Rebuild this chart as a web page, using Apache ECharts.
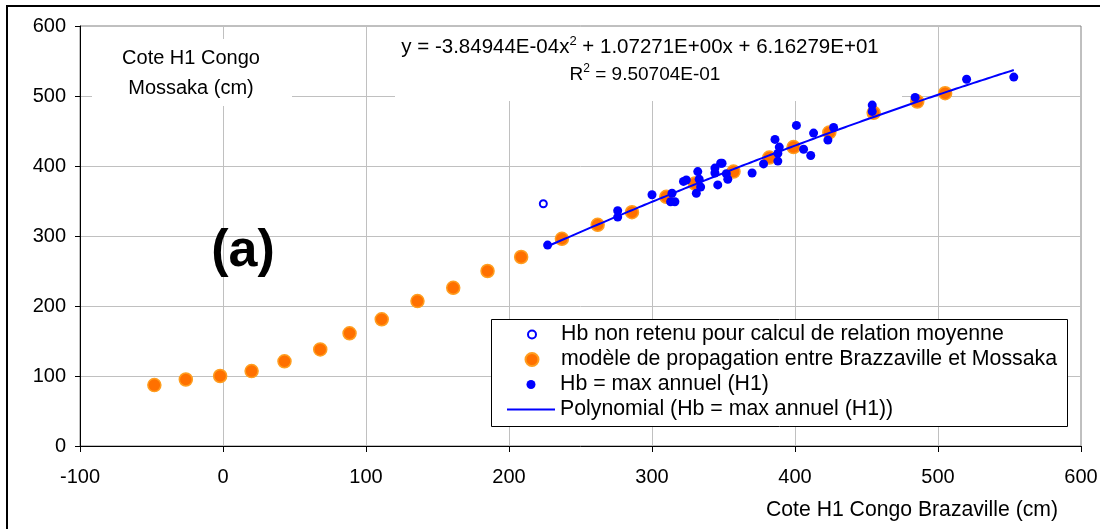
<!DOCTYPE html>
<html>
<head>
<meta charset="utf-8">
<script src="https://cdn.jsdelivr.net/npm/echarts@6/dist/echarts.min.js"></script>
<style>
  html, body { margin: 0; padding: 0; background: #ffffff; }
  #chart { width: 1105px; height: 529px; }
</style>
</head>
<body>
<div id="chart"></div>
<script>
// Legend / series names
const seriesNames = [
  'Hb non retenu pour calcul de relation moyenne',
  'modèle de propagation entre Brazzaville et Mossaka',
  'Hb = max annuel (H1)',
  'Polynomial (Hb = max annuel (H1))'
];

// [H1 Brazzaville (cm), H1 Mossaka (cm)]
const excludedPoints = [[224, 346]];

const modelPoints = [
  [-48, 87], [-26, 95], [-2, 100], [20, 107], [43, 121], [68, 138],
  [88.5, 161], [111, 181], [136, 207], [161, 226], [185, 250], [208.5, 270],
  [237, 296], [262, 316], [286, 334], [310, 356], [330, 375], [357, 392],
  [382, 412], [399, 427], [424, 448], [455, 476], [485.5, 492], [505, 504]
];

const annualMaxPoints = [
  [227, 287], [276, 336], [276, 327], [300, 359], [314, 361], [313, 349],
  [316, 349], [322, 378], [324, 380], [332, 392], [333, 381], [331, 361],
  [334, 370], [344, 397], [344, 390], [348, 404], [349, 404], [346, 373],
  [352, 389], [353, 381], [370, 390], [378, 403], [386, 438], [389, 427],
  [388, 418], [388, 407], [401, 458], [413, 447], [406, 424], [411, 415],
  [423, 437], [427, 455], [454, 487], [454, 478], [484, 498], [520, 524],
  [553, 527]
];

// Second-order trend: y = a*x^2 + b*x + c, drawn over the fitted x range
const fitCoefficients = [-3.84944e-4, 1.07271, 61.6279];
const fitRange = [227, 553];
const fitLabel = ['-3.84944E-04', '1.07271E+00', '6.16279E+01'];
const r2Label = '9.50704E-01';

const xAxisRange = [-100, 600, 100];
const yAxisRange = [0, 600, 100];

const FONT = '"Liberation Sans", Arial, sans-serif';
const LEGEND_FONT_SIZE = 21.3;

function fitValue(x) {
  return fitCoefficients[0] * x * x + fitCoefficients[1] * x + fitCoefficients[2];
}
const fitLine = [];
for (let x = fitRange[0]; x < fitRange[1]; x += 2) fitLine.push([x, fitValue(x)]);
fitLine.push([fitRange[1], fitValue(fitRange[1])]);

const chart = echarts.init(document.getElementById('chart'), null, { renderer: 'canvas' });

// one legend block per row so every marker keeps its own size
function legendRow(item, top, size, left, keepAspect) {
  return {
    data: [item],
    orient: 'vertical',
    left: left,
    top: top,
    padding: 0,
    itemWidth: 48,
    itemHeight: size,
    symbolKeepAspect: keepAspect,
    selectedMode: false,
    z: 5,
    textStyle: { fontFamily: FONT, fontSize: LEGEND_FONT_SIZE, lineHeight: 20, color: '#000' }
  };
}

const option = {
  backgroundColor: '#ffffff',
  animation: false,
  textStyle: { fontFamily: FONT },
  grid: {
    left: 80, top: 26, width: 1001, height: 420,
    show: true, borderColor: '#808080', borderWidth: 1,
    backgroundColor: 'transparent',
    outerBoundsMode: 'none'
  },
  xAxis: {
    type: 'value',
    min: xAxisRange[0], max: xAxisRange[1], interval: xAxisRange[2],
    axisLine: { show: true, onZero: false, lineStyle: { color: '#000', width: 1 } },
    axisTick: { show: true, inside: false, length: 6, lineStyle: { color: '#000' } },
    axisLabel: { color: '#000', fontFamily: FONT, fontSize: 20, margin: 21 },
    splitLine: { show: true, showMinLine: false, showMaxLine: false, lineStyle: { color: '#C0C0C0', width: 1 } }
  },
  yAxis: {
    type: 'value',
    min: yAxisRange[0], max: yAxisRange[1], interval: yAxisRange[2],
    axisLine: { show: true, onZero: false, lineStyle: { color: '#000', width: 1 } },
    axisTick: { show: true, inside: false, length: 5, lineStyle: { color: '#000' } },
    axisLabel: { color: '#000', fontFamily: FONT, fontSize: 20, margin: 14 },
    splitLine: { show: true, showMinLine: false, showMaxLine: false, lineStyle: { color: '#C0C0C0', width: 1 } }
  },
  legend: [
    legendRow(seriesNames[0], 324, 8, 531 - 4, true),
    legendRow(seriesNames[1], 349, 13, 531 - 6.5, true),
    legendRow(seriesNames[2], 374, 9, 531 - 4.5, true),
    legendRow({ name: seriesNames[3], icon: 'path://M0,0H48V2H0Z', itemStyle: { color: '#0000FF' } }, 399, 2, 507, false)
  ],
  series: [
    {
      name: seriesNames[1],
      type: 'scatter',
      data: modelPoints,
      symbol: 'circle',
      symbolSize: 13,
      z: 2,
      itemStyle: { color: '#FF7000', borderColor: '#FF9E1F', borderWidth: 1.5, opacity: 1 }
    },
    {
      name: seriesNames[3],
      type: 'line',
      data: fitLine,
      symbol: 'none',
      smooth: false,
      z: 3,
      color: '#0000FF',
      itemStyle: { color: '#0000FF' },
      lineStyle: { color: '#0000FF', width: 2 }
    },
    {
      name: seriesNames[2],
      type: 'scatter',
      data: annualMaxPoints,
      symbol: 'circle',
      symbolSize: 9,
      z: 4,
      itemStyle: { color: '#0000FF', opacity: 1 }
    },
    {
      name: seriesNames[0],
      type: 'scatter',
      data: excludedPoints,
      symbol: 'emptyCircle',
      symbolSize: 7,
      z: 4,
      itemStyle: { color: '#0000FF', borderColor: '#0000FF', borderWidth: 1.6, opacity: 1 }
    }
  ],
  graphic: [
    // outer frame
    { type: 'line', z: 20, shape: { x1: 7, y1: 6, x2: 1100, y2: 6 }, style: { stroke: '#000', lineWidth: 2 } },
    { type: 'line', z: 20, shape: { x1: 7, y1: 5, x2: 7, y2: 529 }, style: { stroke: '#000', lineWidth: 2 } },
    // white boxes behind the in-plot labels
    { type: 'rect', z: 1, shape: { x: 92, y: 39, width: 200, height: 67 }, style: { fill: '#fff' } },
    { type: 'rect', z: 1, shape: { x: 395, y: 27, width: 507, height: 74 }, style: { fill: '#fff' } },
    // legend frame
    { type: 'rect', z: 4, shape: { x: 491.5, y: 319.5, width: 576, height: 107 }, style: { fill: '#fff', stroke: '#000', lineWidth: 1 } },
    // y axis title
    { type: 'text', z: 10, x: 191, y: 58, style: { text: 'Cote H1 Congo', font: '20px ' + FONT, fill: '#000', align: 'center', verticalAlign: 'middle' } },
    { type: 'text', z: 10, x: 191, y: 88, style: { text: 'Mossaka (cm)', font: '20px ' + FONT, fill: '#000', align: 'center', verticalAlign: 'middle' } },
    // trend equation
    {
      type: 'text', z: 10, x: 640, y: 47,
      style: {
        text: '{t|y = ' + fitLabel[0] + 'x}{s|2}{t| + ' + fitLabel[1] + 'x + ' + fitLabel[2] + '}',
        align: 'center', verticalAlign: 'middle',
        rich: {
          t: { fontFamily: FONT, fontSize: 20.5, lineHeight: 24, fill: '#000', color: '#000' },
          s: { fontFamily: FONT, fontSize: 13, lineHeight: 14, verticalAlign: 'top', fill: '#000', color: '#000' }
        }
      }
    },
    {
      type: 'text', z: 10, x: 645, y: 75,
      style: {
        text: '{t|R}{s|2}{t| = ' + r2Label + '}',
        align: 'center', verticalAlign: 'middle',
        rich: {
          t: { fontFamily: FONT, fontSize: 19, lineHeight: 24, fill: '#000', color: '#000' },
          s: { fontFamily: FONT, fontSize: 12, lineHeight: 14, verticalAlign: 'top', fill: '#000', color: '#000' }
        }
      }
    },
    // panel tag
    { type: 'text', z: 10, x: 243, y: 252, style: { text: '(a)', font: 'bold 52px ' + FONT, fill: '#000', align: 'center', verticalAlign: 'middle' } },
    // x axis title
    { type: 'text', z: 10, x: 912, y: 510, style: { text: 'Cote H1 Congo Brazaville (cm)', font: '21.2px ' + FONT, fill: '#000', align: 'center', verticalAlign: 'middle' } }
  ]
};

chart.setOption(option);
</script>
</body>
</html>
